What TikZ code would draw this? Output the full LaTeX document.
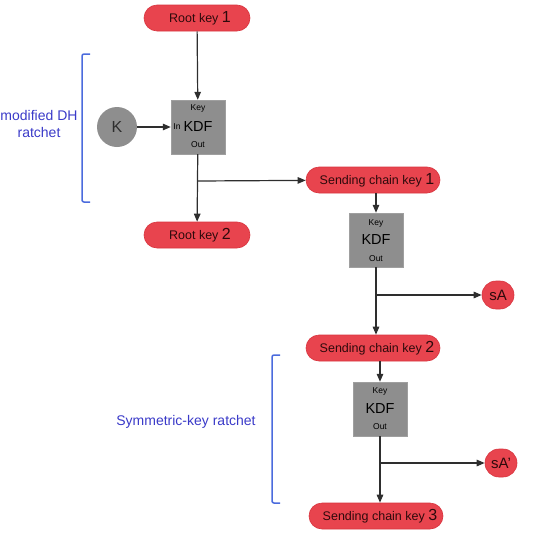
\documentclass[tikz,border=0pt]{standalone}
\usepackage{fontspec}
\setmainfont{Liberation Sans}
\usetikzlibrary{arrows.meta}
\definecolor{pillred}{HTML}{E8444E}
\definecolor{pilledge}{HTML}{D8343E}
\definecolor{pilltext}{HTML}{2E0A0C}
\definecolor{kdfgray}{HTML}{8E8E8E}
\definecolor{wireblack}{HTML}{2E2E2E}
\definecolor{bracketblue}{HTML}{4B6BDD}
\definecolor{labelblue}{HTML}{3A3AC8}
\begin{document}
\begin{tikzpicture}[x=1pt,y=1pt]
\tikzstyle{every node}+=[inner sep=0pt]
\tikzstyle{pill}=[rectangle,rounded corners=13pt,minimum height=26pt,fill=pillred,draw=pilledge,line width=0.6pt,text=pilltext,font=\fontsize{12.5}{14}\selectfont]
\tikzstyle{kdf}=[rectangle,minimum width=54pt,minimum height=54pt,fill=kdfgray,draw=kdfgray!85!white,text=black,font=\fontsize{14.5}{16}\selectfont]
\tikzstyle{port}=[text=black,font=\fontsize{8.5}{10}\selectfont]
\tikzstyle{wire}=[draw=wireblack,line width=1.2pt,-{Triangle[length=8pt,width=6.5pt]}]
\tikzstyle{brace}=[draw=bracketblue,line width=1.5pt,rounded corners=2pt]
\tikzstyle{side}=[text=labelblue,font=\fontsize{14}{17}\selectfont,align=center]
\newcommand{\keyno}[1]{{\fontsize{16}{16}\selectfont #1}}
\useasboundingbox (0,0) rectangle (534,-541);
% root chain
\node [pill,minimum width=106pt] (rk1) at (197,-18) {\hspace{6pt}Root key \keyno{1}};
\node [kdf] (kdfA) at (198,-127) {KDF};
\node [port] (kdfAkey) at (198,-108) {Key};
\node [port] (kdfAout) at (198,-145) {Out};
\node [port] (kdfAin) at (177,-127) {In};
\node [circle,minimum size=40pt,fill=kdfgray,text=wireblack,font=\fontsize{16}{18}\selectfont] (K) at (117,-127) {K};
\node [pill,minimum width=106pt] (rk2) at (197,-235) {\hspace{6pt}Root key \keyno{2}};
\coordinate (brA) at (198,-181);
\draw [wire] (rk1) -- (kdfA);
\draw [wire] (K) -- (kdfA);
\draw [wire] (kdfA) -- (rk2);
% sending chain
\node [pill,minimum width=134pt] (sck1) at (373,-180) {\hspace{8pt}Sending chain key \keyno{1}};
\node [kdf] (kdfB) at (376,-240) {KDF};
\node [port] (kdfBkey) at (376,-223) {Key};
\node [port] (kdfBout) at (376,-259) {Out};
\node [pill,minimum width=134pt] (sck2) at (373,-348) {\hspace{8pt}Sending chain key \keyno{2}};
\node [pill,rounded corners=14pt,minimum width=32pt,minimum height=28pt,font=\fontsize{15}{16}\selectfont] (sA) at (498,-295) {sA};
\coordinate (brB) at (376,-295);
\draw [wire] (brA) -- (sck1);
\draw [wire] (kdfB.north |- sck1.south) -- (kdfB);
\draw [wire] (kdfB) -- (kdfB.south |- sck2.north);
\draw [wire] (brB) -- (sA);
% symmetric step
\node [kdf] (kdfC) at (380,-409) {KDF};
\node [port] (kdfCkey) at (380,-391) {Key};
\node [port] (kdfCout) at (380,-427) {Out};
\node [pill,minimum width=134pt] (sck3) at (376,-516) {\hspace{8pt}Sending chain key \keyno{3}};
\node [pill,rounded corners=14pt,minimum width=32pt,minimum height=28pt,font=\fontsize{15}{16}\selectfont] (sAp) at (501,-463) {sA'};
\coordinate (brC) at (380,-463);
\draw [wire] (kdfC.north |- sck2.south) -- (kdfC);
\draw [wire] (kdfC) -- (kdfC.south |- sck3.north);
\draw [wire] (brC) -- (sAp);
% brackets
\draw [brace] (90,-54) -- (82,-54) -- (82,-202) -- (90,-202);
\node [side] (dhlabel) at (39,-124) {modified DH\\ratchet};
\draw [brace] (280,-355) -- (272,-355) -- (272,-503) -- (280,-503);
\node [side] (symlabel) at (186,-422) {Symmetric-key ratchet};
\end{tikzpicture}
\end{document}
